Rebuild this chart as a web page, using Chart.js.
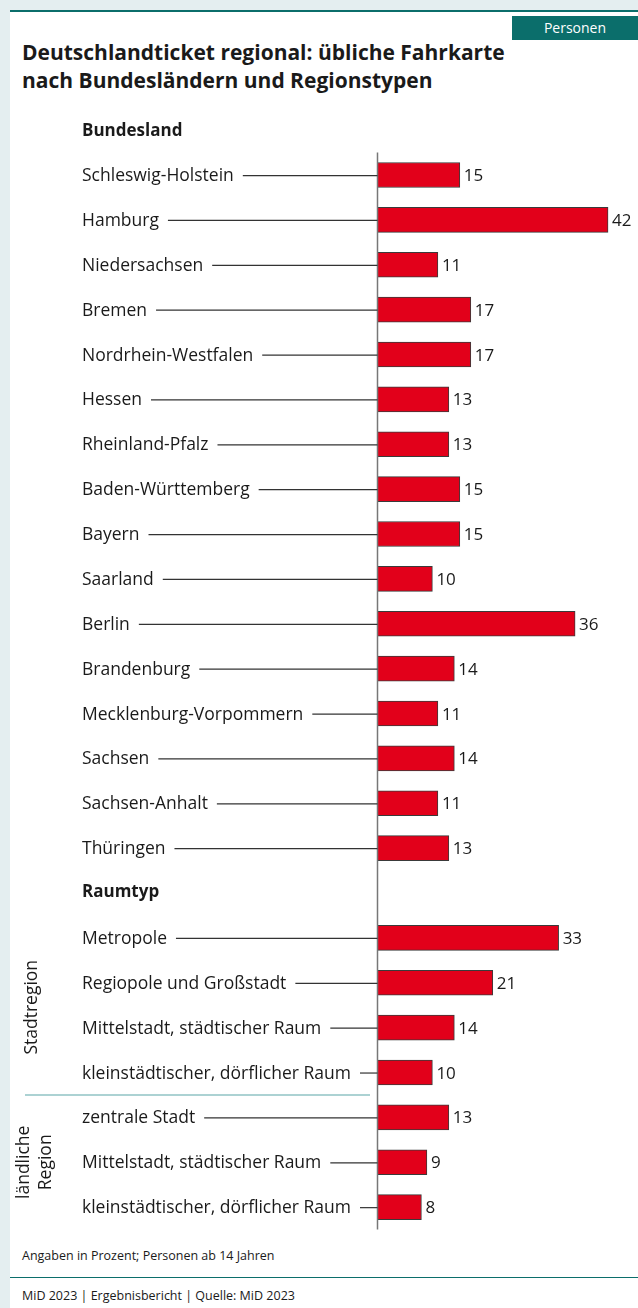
<!DOCTYPE html>
<html><head><meta charset="utf-8">
<script src="https://cdn.jsdelivr.net/npm/chart.js@4/dist/chart.umd.min.js"></script>
<style>
html,body{margin:0;padding:0;}
body{width:638px;height:1308px;position:relative;background:#e4eef0;overflow:hidden;font-family:"Open Sans",sans-serif;color:#1a1a1a;}
#panel{position:absolute;left:10px;top:10px;width:628px;height:1298px;background:#fff;border-top:2px solid #0b6e6b;box-sizing:border-box;}
#tag{position:absolute;left:512px;top:16px;width:126px;height:24px;background:#0b6e6b;color:#fff;font-size:14px;line-height:24px;text-align:center;}
#title{position:absolute;left:22px;top:38px;font-size:21px;font-weight:700;line-height:28px;letter-spacing:0;}
#note{position:absolute;left:22px;top:1247px;font-size:12.5px;}
#rule{position:absolute;left:10px;top:1277px;width:628px;height:1px;background:#0b6e6b;}
#foot{position:absolute;left:22px;top:1287px;font-size:12.5px;}
#wrap{position:absolute;left:0;top:100px;width:638px;height:1140px;}
</style></head>
<body>
<div id="panel"></div>
<div id="tag">Personen</div>
<div id="title">Deutschlandticket regional: übliche Fahrkarte<br>nach Bundesländern und Regionstypen</div>
<div id="wrap"><canvas id="c" width="638" height="1140"></canvas></div>
<div id="note">Angaben in Prozent; Personen ab 14 Jahren</div>
<div id="rule"></div>
<div id="foot">MiD 2023 | Ergebnisbericht | Quelle: MiD 2023</div>
<script>
const headerStates = "Bundesland";
const headerRegions = "Raumtyp";
const states = ["Schleswig-Holstein","Hamburg","Niedersachsen","Bremen","Nordrhein-Westfalen","Hessen","Rheinland-Pfalz","Baden-Württemberg","Bayern","Saarland","Berlin","Brandenburg","Mecklenburg-Vorpommern","Sachsen","Sachsen-Anhalt","Thüringen"];
const stateValues = [15,42,11,17,17,13,13,15,15,10,36,14,11,14,11,13];
const regionTypes = ["Metropole","Regiopole und Großstadt","Mittelstadt, städtischer Raum","kleinstädtischer, dörflicher Raum","zentrale Stadt","Mittelstadt, städtischer Raum","kleinstädtischer, dörflicher Raum"];
const regionValues = [33,21,14,10,13,9,8];
const groupStadt = "Stadtregion";
const groupLand = ["ländliche","Region"];

const labels = [...states, headerRegions, ...regionTypes];
const values = [...stateValues, null, ...regionValues];
const headerIdx = states.length;

const FONT = '"Open Sans", sans-serif';
const LBL = '17.5px ' + FONT;
const overlay = {
  id:'overlay',
  afterDatasetsDraw(chart){
    const ctx = chart.ctx, y = chart.scales.y, a = chart.chartArea;
    const step = y.getPixelForValue(1) - y.getPixelForValue(0);
    ctx.save();
    ctx.strokeStyle = '#777'; ctx.lineWidth = 1.5;
    ctx.beginPath(); ctx.moveTo(a.left, a.top); ctx.lineTo(a.left, a.bottom); ctx.stroke();
    ctx.textBaseline = 'alphabetic';
    ctx.fillStyle = '#1a1a1a';
    ctx.font = 'bold 17px ' + FONT;
    ctx.fillText(headerStates, 82, y.getPixelForValue(0) - step + 6);
    ctx.fillText(headerRegions, 82, y.getPixelForValue(headerIdx) + 4);
    ctx.font = LBL;
    labels.forEach((l, i) => {
      if (i === headerIdx) return;
      const py = y.getPixelForValue(i);
      ctx.fillStyle = '#1a1a1a';
      ctx.fillText(l, 82, py + 6);
      const w = ctx.measureText(l).width;
      ctx.strokeStyle = '#333'; ctx.lineWidth = 1.2;
      ctx.beginPath(); ctx.moveTo(82 + w + 9, py + 0.5); ctx.lineTo(a.left, py + 0.5); ctx.stroke();
    });
    ctx.font = '17px ' + FONT;
    const meta = chart.getDatasetMeta(0);
    meta.data.forEach((bar, i) => {
      if (values[i] == null) return;
      ctx.fillStyle = '#1a1a1a';
      ctx.fillText(String(values[i]), bar.x + 4, bar.y + 6);
    });
    const s0 = headerIdx + 1;
    const sepY = (y.getPixelForValue(s0 + 3) + y.getPixelForValue(s0 + 4)) / 2;
    ctx.strokeStyle = '#5aa5a8'; ctx.lineWidth = 1.2;
    ctx.beginPath(); ctx.moveTo(25, sepY); ctx.lineTo(370, sepY); ctx.stroke();
    ctx.fillStyle = '#1a1a1a';
    ctx.textAlign = 'center';
    ctx.textBaseline = 'middle';
    ctx.font = LBL;
    const cy1 = (y.getPixelForValue(s0) + y.getPixelForValue(s0 + 3)) / 2 + 2;
    ctx.save(); ctx.translate(32, cy1); ctx.rotate(-Math.PI/2); ctx.fillText(groupStadt, 0, 0); ctx.restore();
    const cy2 = (y.getPixelForValue(s0 + 4) + y.getPixelForValue(s0 + 6)) / 2;
    ctx.save(); ctx.translate(24, cy2); ctx.rotate(-Math.PI/2); ctx.fillText(groupLand[0], 0, 0); ctx.restore();
    ctx.save(); ctx.translate(46, cy2); ctx.rotate(-Math.PI/2); ctx.fillText(groupLand[1], 0, 0); ctx.restore();
    ctx.restore();
  }
};

new Chart(document.getElementById('c'), {
  type: 'bar',
  data: { labels, datasets: [{ data: values, backgroundColor: '#e2001a', borderColor: '#3a3a3a', borderWidth: 1, barThickness: 25 }] },
  options: {
    indexAxis: 'y', responsive: false, animation: false,
    layout: { padding: { left: 377.5, right: 13.5, top: 52.6, bottom: 10.4 } },
    plugins: { legend: { display: false }, tooltip: { enabled: false } },
    scales: {
      x: { display: false, min: 0, max: 45 },
      y: { display: false }
    }
  },
  plugins: [overlay]
});
</script>
</body></html>
